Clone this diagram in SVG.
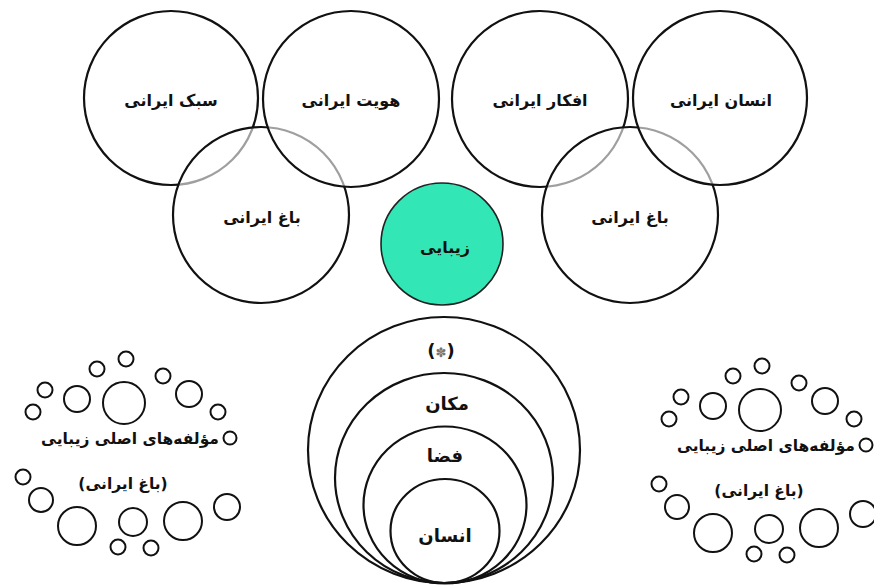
<svg xmlns="http://www.w3.org/2000/svg" xmlns:xlink="http://www.w3.org/1999/xlink" width="874" height="585" viewBox="0 0 874 585">
<style>
.big{fill:none;stroke:#111;stroke-width:2.2}
.veil{fill:#fff;fill-opacity:0.6;stroke:#111;stroke-width:2.2}
.sm{fill:none;stroke:#111;stroke-width:2}
.lbl{font-family:"DejaVu Sans",sans-serif;font-weight:bold;font-size:16px;fill:#111;text-anchor:middle;direction:rtl}
.lbs{font-family:"DejaVu Sans",sans-serif;font-weight:bold;font-size:15.5px;fill:#111;text-anchor:middle;direction:rtl}
.lbl2{font-family:"DejaVu Sans",sans-serif;font-weight:bold;font-size:18px;fill:#111;text-anchor:middle;direction:rtl}
</style>
<rect width="874" height="585" fill="#fff"/>
<defs>
<g id="dots">
<circle class="sm" cx="97" cy="369" r="7.5"/>
<circle class="sm" cx="126" cy="359" r="7.5"/>
<circle class="sm" cx="163" cy="376" r="7.5"/>
<circle class="sm" cx="45" cy="390" r="7.5"/>
<circle class="sm" cx="77" cy="399" r="13"/>
<circle class="sm" cx="124" cy="403" r="21"/>
<circle class="sm" cx="189" cy="394" r="13"/>
<circle class="sm" cx="33" cy="412" r="7.5"/>
<circle class="sm" cx="218" cy="412" r="7.5"/>
<circle class="sm" cx="230" cy="438" r="6.5"/>
<circle class="sm" cx="23" cy="477" r="7.5"/>
<circle class="sm" cx="41" cy="500" r="12"/>
<circle class="sm" cx="77" cy="526" r="19"/>
<circle class="sm" cx="133" cy="522" r="14"/>
<circle class="sm" cx="118" cy="547" r="7.5"/>
<circle class="sm" cx="151" cy="548" r="7.5"/>
<circle class="sm" cx="183" cy="521" r="19"/>
<circle class="sm" cx="227" cy="507" r="13"/>
<text class="lbs" x="130" y="444">مؤلفه‌های اصلی زیبایی</text>
<text class="lbs" x="123" y="489">(باغ ایرانی)</text>
</g>
</defs>

<g id="sabk-irani">
<circle class="big" cx="171" cy="98" r="87"/>
<text class="lbl" x="171" y="106">سبک ایرانی</text>
</g>
<g id="bagh-irani-left">
<circle class="veil" cx="261" cy="215" r="88"/>
<text class="lbl" x="262" y="223">باغ ایرانی</text>
</g>
<g id="hoviat-irani">
<circle class="veil" cx="351" cy="99" r="88"/>
<text class="lbl" x="351" y="106">هویت ایرانی</text>
</g>

<g id="afkar-irani">
<circle class="big" cx="540" cy="99" r="88"/>
<text class="lbl" x="540" y="106">افکار ایرانی</text>
</g>
<g id="bagh-irani-right">
<circle class="veil" cx="630" cy="215" r="88"/>
<text class="lbl" x="630" y="223">باغ ایرانی</text>
</g>
<g id="ensan-irani">
<circle class="veil" cx="720" cy="98" r="87"/>
<text class="lbl" x="721" y="106">انسان ایرانی</text>
</g>

<g id="zibaei">
<circle cx="442" cy="244" r="61" fill="#33e6b5" stroke="#222" stroke-width="1.6"/>
<text class="lbl" x="445" y="253">زیبایی</text>
</g>

<g id="nested">
<ellipse class="big" cx="444" cy="450" rx="136" ry="133"/>
<ellipse class="big" cx="444" cy="478" rx="109" ry="105"/>
<ellipse class="big" cx="445" cy="505" rx="81.5" ry="78.5"/>
<ellipse class="big" cx="445" cy="531" rx="54.5" ry="52"/>
<text class="lbl2" x="441" y="357">(<tspan fill="#777" font-weight="normal" font-size="13">✽</tspan>)</text>
<text class="lbl2" x="447" y="410">مکان</text>
<text class="lbl2" x="445" y="462">فضا</text>
<text class="lbl2" x="445" y="542">انسان</text>
</g>

<g id="components-left">
<use xlink:href="#dots"/>
</g>
<g id="components-right">
<use xlink:href="#dots" transform="translate(636,7)"/>
</g>
</svg>
